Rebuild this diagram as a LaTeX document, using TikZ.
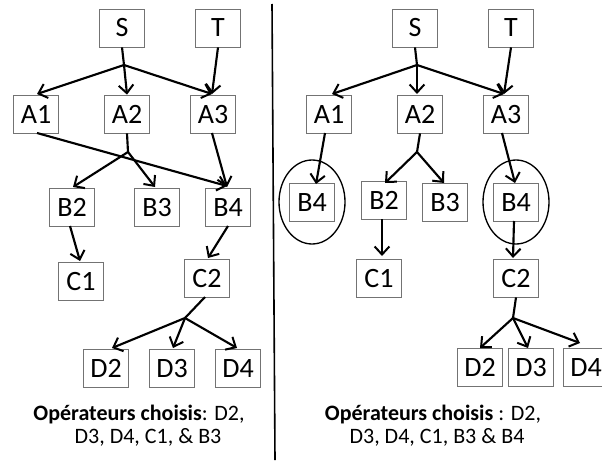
\documentclass[tikz,border=0pt]{standalone}
\usepackage{fontspec}
\setmainfont{Carlito}
\usetikzlibrary{arrows.meta}
\begin{document}
\begin{tikzpicture}[x=0.75pt,y=-0.75pt,
    op/.style={draw=black!55, line width=0.6pt, minimum width=34pt, minimum height=28.5pt, inner sep=0pt, text height=13.5pt, text depth=0pt, font=\fontsize{21}{24}\selectfont},
    arr/.style={line width=1.6pt, -{Straight Barb[length=6pt,width=11pt,line width=1.5pt]}},
    lnk/.style={line width=1.6pt},
    ring/.style={line width=1pt},
    note/.style={inner sep=0pt, text height=11pt, text depth=1pt, font=\fontsize{16.5}{14}\selectfont}]{
    \useasboundingbox (0,0) rectangle (602,460);

    % left panel
    \node [op] (lS) at (122,28) {S};
    \node [op] (lT) at (218,28) {T};
    \node [op] (lA1) at (36,114) {A1};
    \node [op] (lA2) at (127,114) {A2};
    \node [op] (lA3) at (213,114) {A3};
    \node [op] (lB2) at (72,207) {B2};
    \node [op] (lB3) at (157,207) {B3};
    \node [op] (lB4) at (228,207) {B4};
    \node [op] (lC1) at (81,281) {C1};
    \node [op] (lC2) at (207,278) {C2};
    \node [op] (lD2) at (106,368) {D2};
    \node [op] (lD3) at (172,368) {D3};
    \node [op] (lD4) at (238,368) {D4};
    \coordinate (lJS) at (124,65);
    \coordinate (lJA) at (128,152);
    \coordinate (lJC) at (185,318);

    \path [lnk] (lS.south) edge (lJS);
    \path [arr] (lJS) edge (37,94) edge (lA2.north) edge (212,94);
    \path [arr] (lT.south) edge (212,94);
    \path [arr] (37,133) edge (227,186);
    \path [lnk] (lA2.south) edge (lJA);
    \path [arr] (lJA) edge (73,187) edge (155,187);
    \path [arr] (212,133) edge (227,187);
    \path [arr] (70,226) edge (80,261);
    \path [arr] (228,226) edge (208,258);
    \path [lnk] (205,297) edge (lJC);
    \path [arr] (lJC) edge (112,348) edge (173,348) edge (237,348);

    \node [note] (lnote1) at (139,414) {\textbf{Opérateurs choisis}: D2,};
    \node [note] (lnote2) at (148,437) {D3, D4, C1, \& B3};

    % divider
    \draw [line width=1.2pt] (272,4) -- (275,460);

    % right panel
    \node [op] (rS) at (415,28) {S};
    \node [op] (rT) at (511,28) {T};
    \node [op] (rA1) at (329,114) {A1};
    \node [op] (rA2) at (420,114) {A2};
    \node [op] (rA3) at (506,114) {A3};
    \node [op] (rB4a) at (312,202) {B4};
    \node [op] (rB2) at (384,200) {B2};
    \node [op] (rB3) at (445,202) {B3};
    \node [op] (rB4b) at (516,202) {B4};
    \node [op] (rC1) at (379,278) {C1};
    \node [op] (rC2) at (516,278) {C2};
    \node [op] (rD2) at (480,367) {D2};
    \node [op] (rD3) at (531,367) {D3};
    \node [op] (rD4) at (586,367) {D4};
    \coordinate (rJS) at (417,65);
    \coordinate (rJA) at (417,152);
    \coordinate (rJC) at (513,318);

    \draw [ring] (rB4a) ellipse [x radius=24.75pt, y radius=31.5pt];
    \draw [ring] (rB4b) ellipse [x radius=24.75pt, y radius=31.5pt];

    \path [lnk] (rS.south) edge (rJS);
    \path [arr] (rJS) edge (332,94) edge (417,94) edge (504,94);
    \path [arr] (rT.south) edge (504,94);
    \path [arr] (325,133) edge (316,184);
    \path [lnk] (rA2.south) edge (rJA);
    \path [arr] (rJA) edge (385,183) edge (444,183);
    \path [arr] (502,133) edge (515,183);
    \path [arr] (382,219) edge (382,256);
    \path [arr] (514,221) edge (513,258);
    \path [lnk] (rC2.south) edge (rJC);
    \path [arr] (rJC) edge (480,348) edge (528,348) edge (580,343);

    \node [note] (rnote1) at (433,414) {\textbf{Opérateurs choisis} : D2,};
    \node [note] (rnote2) at (437,437) {D3, D4, C1, B3 \& B4};
    }
\end{tikzpicture}
\end{document}
